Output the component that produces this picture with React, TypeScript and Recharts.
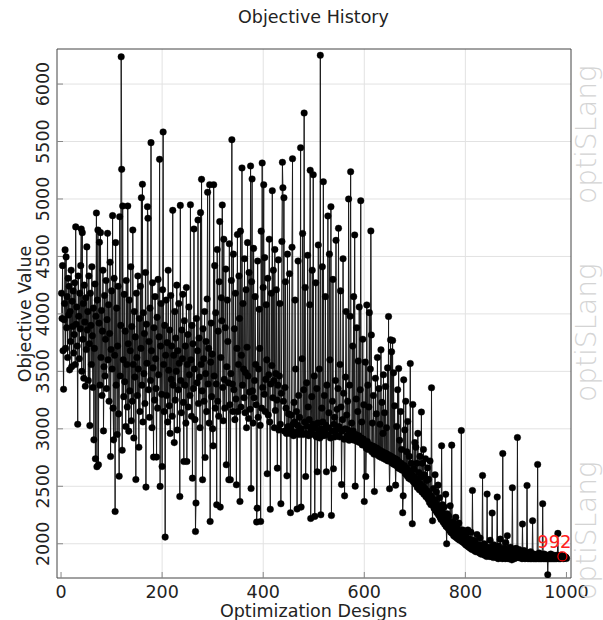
import React from "react"
import { LineChart, Line, XAxis, YAxis, CartesianGrid, ReferenceDot } from "recharts"

// objective value per design (design number = index + 1)
const objective: number[] = [
	4180, 3960, 4420, 3680, 3345, 3950, 4090, 4557, 3700, 4496, 3880, 4150, 3620, 4310, 3990, 4240, 3513, 4020, 3760, 4380, 3540, 4110, 3890, 4200, 3660,
	3820, 4270, 3560, 4757, 3910, 4060, 3720, 3040, 4330, 3980, 3610, 4180, 3870, 4420, 4739, 3500, 4707, 3780, 4090, 3440, 4250, 3930, 3370, 4140, 3690,
	4583, 3860, 4020, 3420, 4330, 3740, 3028, 4180, 3900, 3560, 4410, 3810, 3360, 4050, 2904, 3700, 4260, 2739, 3980, 4878, 2670, 4120, 4730, 2687, 3920,
	4623, 3380, 4707, 3620, 4030, 3290, 3850, 4380, 2982, 3540, 4160, 3460, 3780, 4290, 3350, 3950, 4701, 3600, 4080, 3240, 3830, 4450, 2759, 3690, 4200,
	3520, 4855, 3180, 2904, 4310, 3640, 2281, 4620, 3380, 4050, 2950, 3720, 4240, 3130, 2588, 4846, 3460, 3900, 6237, 5258, 2814, 4939, 3600, 3280, 4170,
	3410, 3850, 3020, 4290, 3560, 3190, 4939, 3740, 2980, 4120, 3330, 3680, 4410, 3070, 3890, 3240, 4730, 3560, 2920, 4020, 3450, 3800, 2559, 4180, 3620,
	3290, 4330, 3520, 2840, 3960, 3150, 4240, 3700, 5011, 3380, 5128, 3060, 4010, 3480, 3830, 3220, 4360, 2493, 3910, 3570, 4933, 4832, 3340, 3760, 3100,
	4050, 3420, 5490, 3680, 3010, 4270, 3530, 2754, 3880, 3250, 4150, 3610, 3350, 2754, 3970, 3180, 4300, 3470, 3800, 5345, 2499, 3720, 4090, 3300, 2672,
	4210, 5583, 3560, 3150, 3900, 2058, 3640, 4120, 3290, 3750, 3060, 4380, 3510, 3200, 3860, 2960, 4160, 3430, 3720, 3110, 4901, 3380, 3640, 2880, 4020,
	3250, 3790, 3500, 4250, 2990, 3680, 3340, 4090, 3570, 2411, 4944, 3420, 3140, 3860, 3610, 4170, 3230, 2716, 3940, 3380, 3720, 3050, 4230, 2716, 3560,
	3820, 3190, 4060, 3470, 3290, 4950, 3600, 3110, 3900, 2571, 3740, 3350, 4739, 3520, 3080, 2107, 2354, 3960, 3400, 3680, 4817, 3220, 3790, 3450, 3010,
	4881, 3560, 5171, 3330, 2557, 3870, 3610, 3240, 4020, 2751, 3480, 3760, 3150, 4130, 5058, 3390, 3700, 3050, 5124, 2194, 3580, 3920, 3280, 3650, 3000,
	2852, 5124, 3460, 4420, 3180, 4010, 3390, 2339, 4560, 3240, 3850, 3110, 4280, 4803, 2319, 3620, 4140, 3940, 4948, 3360, 3070, 4650, 3430, 3180, 3880,
	4390, 2687, 3540, 4120, 3760, 3400, 2557, 4610, 3210, 2557, 3480, 4290, 5516, 3390, 3150, 4520, 3340, 3870, 3080, 4180, 3260, 2513, 3700, 4690, 3150,
	3560, 4330, 3960, 2368, 4720, 3190, 3640, 5270, 3380, 4090, 3520, 3270, 4480, 3140, 3490, 4210, 3010, 3710, 4620, 3460, 3090, 4360, 3320, 3170, 5287,
	2481, 4280, 5174, 3330, 3050, 4570, 3270, 3420, 4150, 3560, 3210, 2189, 2310, 4460, 3100, 3520, 4040, 3700, 3030, 2194, 4720, 3180, 5313, 3360, 4230,
	5124, 3300, 4490, 3150, 3430, 4080, 3600, 2609, 4310, 3120, 3470, 4650, 3060, 2300, 3390, 4180, 3550, 5072, 3270, 4380, 3420, 3010, 4560, 3160, 3480,
	4210, 3250, 2658, 3380, 4470, 2990, 3460, 4090, 3040, 2348, 3310, 4630, 5319, 5098, 3240, 5011, 2980, 3360, 4280, 3180, 2960, 2591, 4520, 3020, 3130,
	3010, 4350, 2960, 2270, 3120, 2990, 4580, 5350, 3040, 2940, 3230, 3060, 4120, 3520, 2970, 3150, 2302, 3030, 4460, 3290, 2950, 3100, 2990, 5446, 2319,
	3000, 3610, 4700, 2950, 3340, 5748, 3060, 4230, 2585, 2960, 3400, 3020, 4510, 3190, 2940, 3080, 4080, 5250, 2220, 2990, 3280, 4380, 3040, 5211, 2950,
	3460, 2238, 3010, 4270, 2930, 3350, 2626, 3050, 4600, 2970, 3520, 2920, 6250, 2252, 3000, 3180, 4410, 3060, 5150, 2940, 3290, 2980, 4150, 3030, 2626,
	3380, 2950, 4852, 3010, 3140, 4520, 3600, 2920, 4933, 2246, 2980, 3240, 4300, 2652, 3040, 3100, 2930, 3420, 4640, 2990, 3170, 2940, 3350, 4745, 3020,
	2930, 3560, 4200, 3190, 2516, 2980, 3080, 4480, 3310, 2910, 2417, 3000, 3450, 4020, 3120, 2940, 3240, 2990, 5000, 2900, 3380, 3980, 5237, 2960, 3050,
	2910, 3720, 2980, 4150, 2900, 4687, 2501, 2950, 3260, 3880, 2890, 3150, 3590, 2940, 4060, 2880, 3340, 4985, 2920, 3060, 2860, 3780, 2910, 3210, 2368,
	2870, 3580, 2585, 2830, 4078, 2890, 3380, 2820, 3190, 4011, 2860, 3520, 4722, 3817, 2800, 3050, 2850, 3290, 2780, 2455, 2840, 3440, 2790, 3130, 2830,
	3620, 2770, 2820, 3350, 2760, 3040, 2810, 3687, 2750, 3230, 2800, 2960, 3470, 2740, 3140, 2790, 3368, 2730, 3010, 2780, 3530, 2720, 3977, 2770, 2478,
	2720, 3774, 2760, 3670, 2700, 3768, 2750, 3487, 2690, 3200, 2740, 2510, 2680, 3020, 2730, 3340, 2660, 3525, 2710, 2900, 2650, 3150, 2700, 2820, 2640,
	2270, 2417, 3426, 2680, 2990, 2610, 3240, 2660, 2800, 2590, 3064, 2640, 2570, 2760, 2620, 3568, 2560, 2700, 2600, 2174, 3212, 2540, 2650, 2580, 2880,
	2520, 2840, 2560, 2700, 2490, 2960, 2540, 2620, 2470, 2760, 2520, 2580, 3146, 2450, 2700, 2500, 2820, 2430, 2600, 2480, 2740, 2410, 2550, 2460, 2660,
	2390, 2560, 2440, 2360, 2720, 2420, 2340, 3357, 2400, 2200, 2370, 2480, 2310, 2380, 2600, 2290, 2350, 2450, 2270, 2330, 2510, 2250, 2310, 2400, 2230,
	2290, 2210, 2852, 2270, 2340, 2190, 2250, 2320, 2170, 2230, 2430, 2150, 2000, 2260, 2140, 2200, 2240, 2120, 2180, 2330, 2100, 2160, 2858, 2090, 2190,
	2140, 2070, 2170, 2120, 2060, 2230, 2110, 2050, 2150, 2090, 2040, 2180, 2080, 2030, 2110, 2070, 2985, 2020, 2060, 2120, 2010, 2050, 2090, 2000, 2040,
	1990, 2060, 2020, 1980, 2120, 2010, 1970, 2040, 2000, 1960, 2100, 1990, 1950, 2463, 1980, 1960, 2030, 1940, 1990, 2010, 1930, 1970, 2080, 1950, 1930,
	1990, 1950, 1920, 2050, 1960, 1910, 1980, 1940, 2594, 1910, 1950, 2000, 1900, 1940, 1960, 1910, 1890, 2432, 1930, 1900, 1970, 1920, 1890, 2030, 1910,
	1890, 1950, 2267, 1920, 1880, 1990, 1910, 1890, 1950, 1920, 1880, 1940, 2406, 1900, 1870, 1980, 1910, 1890, 2040, 1880, 1910, 1930, 1870, 2785, 1900,
	1880, 1960, 1910, 1870, 2010, 1900, 1880, 2070, 1910, 1870, 1940, 1890, 1870, 1970, 1900, 1880, 1860, 2487, 1900, 1880, 1930, 1870, 1910, 1880, 1960,
	1890, 1880, 2924, 1890, 1880, 1950, 1880, 1890, 1920, 1880, 1890, 1870, 2171, 1880, 1890, 1940, 1880, 1870, 1900, 1880, 1890, 2507, 1880, 1870, 1920,
	1880, 1890, 1870, 1930, 1880, 1870, 1890, 2200, 1880, 1870, 1910, 1880, 1870, 1890, 1880, 1870, 1900, 2690, 1880, 1870, 1920, 1880, 1870, 1890, 1880,
	1870, 1890, 2348, 1880, 1870, 1910, 1880, 1870, 1890, 1880, 1870, 1900, 1730, 1880, 1870, 1890, 1880, 1870, 1910, 1880, 1870, 1890, 1880, 1870, 1900,
	1880, 1870, 1890, 1880, 1870, 1900, 1880, 2090, 1880, 1870, 1890, 1880, 1870, 1900, 1880, 1875, 1890, 1880, 1870, 1890, 1880, 1875, 1885, 1880, 1872,
]

const xTicks = [0, 200, 400, 600, 800, 1000]
const xGrid = [200, 400, 600, 800]
const yTicks = [2000, 2500, 3000, 3500, 4000, 4500, 5000, 5500, 6000]
const bestDesign = 992
const watermarkY = [600, 402, 204]

const data = objective.map((v, i) => ({ design: i + 1, value: v }))
const best = data[bestDesign - 1]

const FONT = "'DejaVu Sans', Verdana, sans-serif"
const W = 603
const H = 620
const TOP = 49
const BOTTOM = 578
const LEFT = 57
const RIGHT = 571

const XTick = (props: any) => (
	<text x={props.x} y={BOTTOM + 20} textAnchor="middle" fontSize={17.5} fontFamily={FONT} fill="#222">
		{props.payload.value}
	</text>
)

const YTick = (props: any) => (
	<text x={49} y={props.y} transform={`rotate(-90 49 ${props.y})`} textAnchor="middle" fontSize={17.5} fontFamily={FONT} fill="#222">
		{props.payload.value}
	</text>
)

const BestMarker = (p: any) => (
	<g>
		<circle cx={p.cx} cy={p.cy} r={4.5} fill="none" stroke="#ff0000" strokeWidth={1.2} />
		<text x={p.cx - 8} y={p.cy - 8} textAnchor="middle" fontSize={18} fontFamily={FONT} fill="#ff2020">{bestDesign}</text>
	</g>
)

export default function App() {
	return (
		<div style={{position:"fixed", left:0, top:0, width:W, height:H, background:"#fff", overflow:"hidden"}}>
			<LineChart width={W} height={H} data={data} margin={{top:TOP, right:W - RIGHT, bottom:0, left:0}}>
				<CartesianGrid stroke="#e2e2e2" verticalValues={xGrid} horizontalValues={yTicks} />
				<XAxis dataKey="design" type="number" domain={[-8, 1009]} allowDataOverflow ticks={xTicks} height={H - BOTTOM}
					tick={<XTick />} tickSize={-6} axisLine={{stroke:"#444"}} tickLine={{stroke:"#888"}} />
				<YAxis type="number" domain={[1702, 6305]} allowDataOverflow ticks={yTicks} width={LEFT}
					tick={<YTick />} tickSize={-6} axisLine={{stroke:"#444"}} tickLine={{stroke:"#888"}} />
				<XAxis xAxisId="top" orientation="top" type="number" domain={[-8, 1009]} allowDataOverflow ticks={xTicks} mirror
					tick={false} tickSize={6} axisLine={{stroke:"#444"}} tickLine={{stroke:"#888"}} />
				<YAxis yAxisId="right" orientation="right" type="number" domain={[1702, 6305]} allowDataOverflow ticks={yTicks} mirror
					tick={false} tickSize={6} axisLine={{stroke:"#444"}} tickLine={{stroke:"#888"}} />
				<Line dataKey="value" stroke="#1a1a1a" strokeWidth={1} isAnimationActive={false}
					dot={{r:3.3, fill:"#000", stroke:"#000", strokeWidth:0.4}} />
				<ReferenceDot x={best.design} y={best.value} shape={BestMarker} />
			</LineChart>
			<svg width={W} height={H} style={{position:"absolute", left:0, top:0, pointerEvents:"none"}}>
				<text x={313.5} y={23} textAnchor="middle" fontSize={17.5} fontFamily={FONT} fill="#222">Objective History</text>
				<text x={313.5} y={617} textAnchor="middle" fontSize={17.5} fontFamily={FONT} fill="#222">Optimization Designs</text>
				<text x={31} y={314} transform="rotate(-90 31 314)" textAnchor="middle" fontSize={17.5} fontFamily={FONT} fill="#222">Objective Value</text>
				{watermarkY.map((y, i) => (
					<text key={i} x={596} y={y} transform={`rotate(-90 596 ${y})`} fontSize={28} fontWeight={200} fontFamily={FONT} fill="#d4d4d4">optiSLang</text>
				))}
			</svg>
		</div>
	)
}
